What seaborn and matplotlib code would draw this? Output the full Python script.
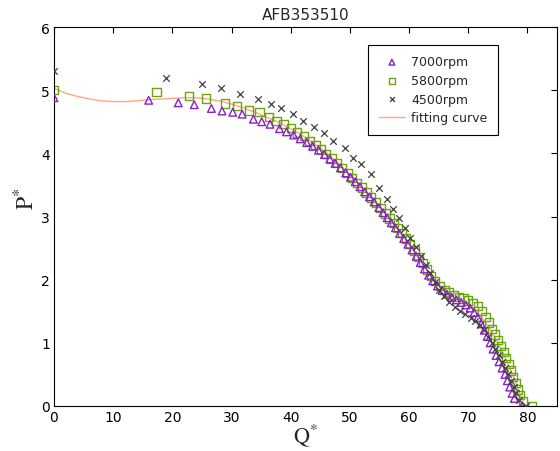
import matplotlib
matplotlib.use("Agg")
import matplotlib.pyplot as plt
import seaborn as sns
import pandas as pd

# ---- data ----
q_7000 = [0, 16, 21, 23.7, 26.6, 28.4, 30.2, 31.8, 33.7, 35.1, 36.5, 38.1, 39.3, 40.5, 41.6,
          42.7, 43.7, 44.7, 45.7, 46.6, 47.5, 48.4, 49.3, 50.1, 50.9, 51.7, 52.5, 53.3, 54.1,
          54.9, 55.6, 56.3, 57.0, 57.7, 58.4, 59.1, 59.8, 60.5, 61.2, 61.9, 62.6, 63.3, 64.0,
          64.8, 65.6, 66.4, 67.2, 68.0, 68.8, 69.6, 70.3, 71.0, 71.6, 72.2, 72.7, 73.2, 73.7,
          74.2, 74.7, 75.2, 75.7, 76.2, 76.6, 77.0, 77.4, 77.8, 79.1]
p_7000 = [4.88, 4.84, 4.80, 4.77, 4.71, 4.67, 4.65, 4.62, 4.54, 4.50, 4.46, 4.39, 4.34, 4.29, 4.23,
          4.17, 4.11, 4.05, 3.98, 3.91, 3.84, 3.77, 3.69, 3.62, 3.55, 3.47, 3.39, 3.31, 3.23,
          3.14, 3.06, 2.98, 2.90, 2.82, 2.73, 2.65, 2.56, 2.47, 2.37, 2.27, 2.17, 2.07, 1.98,
          1.90, 1.83, 1.77, 1.72, 1.68, 1.64, 1.60, 1.55, 1.48, 1.40, 1.30, 1.20, 1.10, 1.00,
          0.90, 0.80, 0.70, 0.60, 0.50, 0.40, 0.30, 0.20, 0.12, 0.00]

q_5800 = [0, 17.3, 22.8, 25.7, 28.9, 30.9, 33.0, 34.7, 36.3, 37.6, 38.8, 40.0, 41.1, 42.2, 43.2,
          44.2, 45.1, 46.0, 46.9, 47.8, 48.7, 49.6, 50.4, 51.2, 52.0, 52.8, 53.6, 54.4, 55.2,
          56.0, 56.7, 57.4, 58.1, 58.8, 59.5, 60.2, 60.9, 61.6, 62.3, 63.0, 63.7, 64.4, 65.2,
          66.0, 66.8, 67.6, 68.4, 69.2, 70.0, 70.8, 71.6, 72.3, 72.9, 73.5, 74.0, 74.5, 75.0,
          75.5, 76.0, 76.4, 76.8, 77.2, 77.6, 78.0, 78.4, 78.8, 79.2, 80.8]
p_5800 = [5.00, 4.97, 4.91, 4.87, 4.79, 4.75, 4.68, 4.65, 4.57, 4.51, 4.46, 4.40, 4.33, 4.27, 4.20,
          4.13, 4.06, 3.99, 3.92, 3.85, 3.77, 3.69, 3.61, 3.53, 3.46, 3.38, 3.30, 3.22, 3.13,
          3.05, 2.97, 2.90, 2.82, 2.74, 2.65, 2.56, 2.46, 2.36, 2.26, 2.16, 2.06, 1.98, 1.90,
          1.84, 1.80, 1.76, 1.73, 1.70, 1.67, 1.63, 1.58, 1.50, 1.41, 1.32, 1.22, 1.13, 1.04,
          0.95, 0.86, 0.76, 0.66, 0.56, 0.46, 0.36, 0.26, 0.17, 0.08, 0.00]

q_4500 = [0, 18.9, 25.0, 28.2, 31.5, 34.5, 36.7, 38.4, 40.4, 42.1, 44.0, 45.7, 47.2, 49.2, 50.5,
          51.8, 53.5, 55.0, 56.2, 57.3, 58.3, 59.3, 60.2, 61.1, 62.0, 62.8, 63.6, 64.3, 65.1,
          65.9, 66.8, 67.7, 68.6, 69.5, 70.4, 71.2, 72.0, 72.7, 73.4, 74.0, 74.6, 75.2, 75.7,
          76.2, 76.7, 77.2, 77.7, 78.1, 78.6, 79.8]
p_4500 = [5.30, 5.20, 5.09, 5.04, 4.94, 4.86, 4.78, 4.71, 4.62, 4.51, 4.41, 4.32, 4.20, 4.09, 3.92,
          3.83, 3.67, 3.45, 3.28, 3.12, 2.97, 2.82, 2.66, 2.52, 2.38, 2.24, 2.10, 1.97, 1.84,
          1.74, 1.64, 1.56, 1.50, 1.45, 1.40, 1.35, 1.29, 1.20, 1.10, 1.00, 0.90, 0.80, 0.70,
          0.60, 0.50, 0.40, 0.30, 0.20, 0.10, 0.00]

q_fit = [0, 2, 4, 6, 8, 10, 12, 14, 16, 18, 20, 22, 24, 26, 28, 30, 32, 34, 36, 38, 40, 42, 44,
         46, 48, 50, 52, 54, 56, 58, 60, 61, 62, 63, 64, 65, 66, 67, 68, 69, 70, 71, 72, 73, 74,
         75, 76, 77, 78, 79, 79.5]
p_fit = [5.03, 4.95, 4.90, 4.86, 4.83, 4.82, 4.82, 4.83, 4.85, 4.86, 4.87, 4.88, 4.88, 4.86, 4.83,
         4.78, 4.72, 4.65, 4.57, 4.49, 4.39, 4.28, 4.15, 4.01, 3.85, 3.67, 3.47, 3.26, 3.04, 2.80,
         2.55, 2.42, 2.29, 2.16, 2.03, 1.92, 1.83, 1.76, 1.70, 1.65, 1.59, 1.52, 1.43, 1.31, 1.17,
         1.00, 0.82, 0.61, 0.38, 0.13, 0.00]

x_ticks = [0, 10, 20, 30, 40, 50, 60, 70, 80]
y_ticks = [0, 1, 2, 3, 4, 5, 6]

sns.set_style("white")
plt.rcParams["font.family"] = ["DejaVu Sans"]
plt.rcParams["mathtext.fontset"] = "stix"

fig = plt.figure(figsize=(5.6, 4.52), dpi=100)
ax = fig.add_axes([54 / 560, 1 - 407 / 452, 503 / 560, 379 / 452])

df_fit = pd.DataFrame({"Q": q_fit, "P": p_fit})
sns.lineplot(data=df_fit, x="Q", y="P", ax=ax, color="#FFA880", lw=1.0,
             label="fitting curve", zorder=1, sort=False)

sns.scatterplot(x=q_7000, y=p_7000, ax=ax, marker="^", s=30, facecolors="none",
                edgecolor="#8A1EC8", linewidth=1.0, label="7000rpm", zorder=3)
sns.scatterplot(x=q_5800, y=p_5800, ax=ax, marker="s", s=36, facecolors="none",
                edgecolor="#6BA510", linewidth=1.0, label="5800rpm", zorder=2)
sns.scatterplot(x=q_4500, y=p_4500, ax=ax, marker="x", s=22, color="#404040",
                linewidth=0.9, label="4500rpm", zorder=4)

ax.set_xlim(0, 85)
ax.set_ylim(0, 6)
ax.set_xticks(x_ticks)
ax.set_yticks(y_ticks)
ax.tick_params(direction="in", length=4, width=0.8, top=True, right=True,
               labelsize=10, colors="black", pad=3)
for s in ax.spines.values():
    s.set_color("black")
    s.set_linewidth(0.8)
    s.set_visible(True)

ax.set_title("AFB353510", fontsize=11, pad=6)
ax.set_xlabel(r"$\mathrm{Q}^{*}$", fontsize=16, labelpad=-2)
ax.set_ylabel(r"$\mathrm{P}^{*}$", fontsize=17, labelpad=2)
ax.yaxis.set_label_coords(-0.03, 0.55)

handles, labels = ax.get_legend_handles_labels()
order = [labels.index(l) for l in ["7000rpm", "5800rpm", "4500rpm", "fitting curve"]]
leg = ax.legend([handles[i] for i in order], [labels[i] for i in order],
                loc="upper right", bbox_to_anchor=(0.883, 0.953), borderaxespad=0,
                fontsize=9, frameon=True, fancybox=False, framealpha=1, edgecolor="black",
                borderpad=0.85, labelspacing=0.45, handlelength=2.1, handletextpad=0.5,
                markerscale=0.75)
leg.get_frame().set_linewidth(0.8)

fig.savefig("out.png", dpi=100)
